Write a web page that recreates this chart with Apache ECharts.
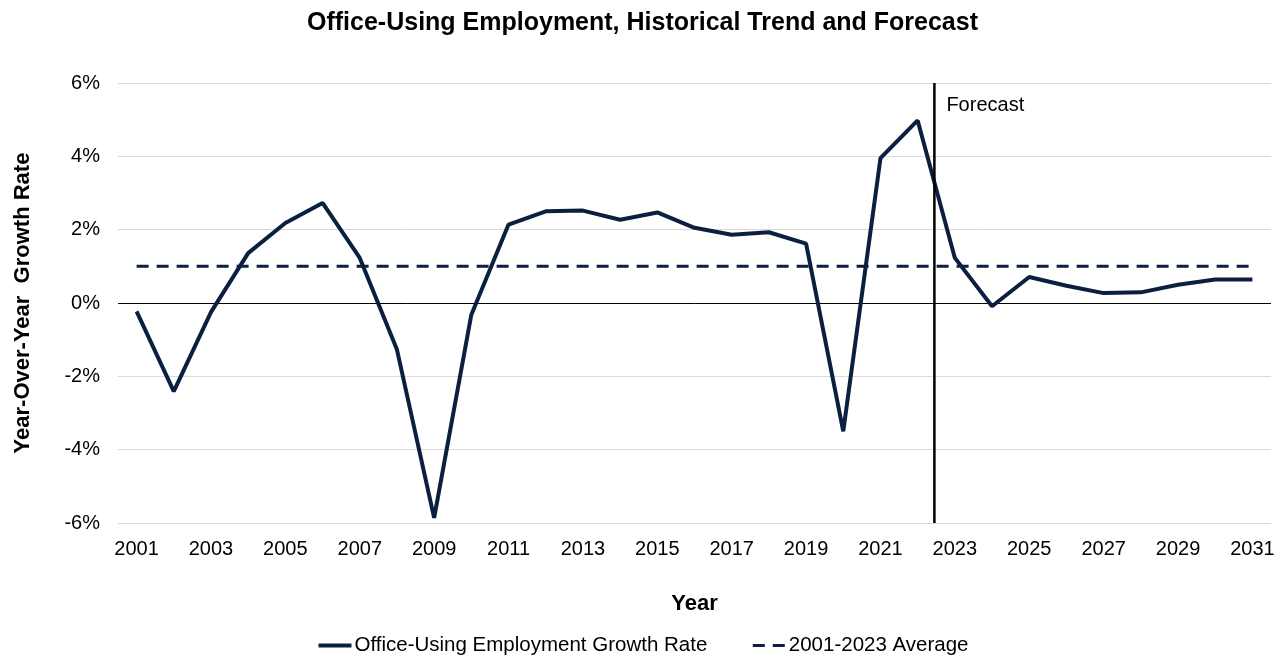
<!DOCTYPE html>
<html>
<head>
<meta charset="utf-8">
<script src="https://cdn.jsdelivr.net/npm/echarts@6/dist/echarts.min.js"></script>
<style>
html,body{margin:0;padding:0;background:#fff;}
#chart{width:1285px;height:660px;}
</style>
</head>
<body>
<div id="chart"></div>
<script>
const years = ['2001','2002','2003','2004','2005','2006','2007','2008','2009','2010','2011','2012','2013','2014','2015','2016','2017','2018','2019','2020','2021','2022','2023','2024','2025','2026','2027','2028','2029','2030','2031'];
const growthRate = [-0.23,-2.41,-0.25,1.36,2.18,2.73,1.23,-1.27,-5.86,-0.32,2.14,2.50,2.52,2.27,2.47,2.05,1.86,1.93,1.62,-3.50,3.95,4.98,1.23,-0.09,0.71,0.47,0.27,0.29,0.50,0.64,0.64];
const averageRate = [1.0,1.0,1.0,1.0,1.0,1.0,1.0,1.0,1.0,1.0,1.0,1.0,1.0,1.0,1.0,1.0,1.0,1.0,1.0,1.0,1.0,1.0,1.0,1.0,1.0,1.0,1.0,1.0,1.0,1.0,1.0];
const forecastStart = 2022.45;
const forecastLine = [[forecastStart, -6], [forecastStart, 6]];
const forecastLabelPoint = [[forecastStart, 6]];

const navy = '#0b1f40';
const font = 'Liberation Sans, Arial, sans-serif';

const chart = echarts.init(document.getElementById('chart'));
chart.setOption({
  backgroundColor: '#ffffff',
  animation: false,
  title: {
    text: 'Office-Using Employment, Historical Trend and Forecast',
    left: 'center',
    top: 6,
    textStyle: {fontFamily: font, fontSize: 25, fontWeight: 'bold', color: '#000'}
  },
  legend: {
    data: [
      {name: 'Office-Using Employment Growth Rate', lineStyle: {width: 4}},
      {name: '2001-2023 Average', lineStyle: {width: 3}}
    ],
    bottom: 4,
    left: 'center',
    padding: 0,
    itemWidth: 33,
    itemHeight: 14,
    itemGap: 44,
    itemStyle: {opacity: 0},
    textStyle: {fontFamily: font, fontSize: 20.5, color: '#000', padding: [0, 0, 0, -2]}
  },
  grid: {left: 118, right: 14, top: 83, bottom: 137},
  xAxis: [{
    type: 'category',
    data: years,
    boundaryGap: true,
    name: 'Year',
    nameLocation: 'middle',
    nameGap: 70,
    nameTextStyle: {fontFamily: font, fontSize: 22, fontWeight: 'bold', color: '#000'},
    axisLine: {show: false},
    axisTick: {show: false},
    axisLabel: {interval: 1, margin: 16, fontFamily: font, fontSize: 20, color: '#000'},
    splitLine: {show: false}
  }, {
    type: 'value',
    min: 2000.5,
    max: 2031.5,
    show: false
  }],
  yAxis: {
    type: 'value',
    min: -6,
    max: 6,
    interval: 2,
    name: 'Year-Over-Year  Growth Rate',
    nameLocation: 'middle',
    nameGap: 84,
    nameTextStyle: {fontFamily: font, fontSize: 22, fontWeight: 'bold', color: '#000'},
    axisLine: {show: false},
    axisTick: {show: false},
    axisLabel: {formatter: '{value}%', margin: 18, fontFamily: font, fontSize: 20, color: '#000'},
    splitLine: {lineStyle: {color: '#d9d9d9', width: 1}}
  },
  series: [{
    name: 'Office-Using Employment Growth Rate',
    type: 'line',
    data: growthRate,
    symbol: 'none',
    lineStyle: {color: navy, width: 4},
    itemStyle: {color: navy},
    z: 5,
    markLine: {
      silent: true,
      symbol: 'none',
      label: {show: false},
      lineStyle: {color: '#000', width: 1, type: 'solid'},
      data: [{yAxis: 0}]
    }
  }, {
    name: '2001-2023 Average',
    type: 'line',
    data: averageRate,
    symbol: 'none',
    lineStyle: {color: navy, width: 3, type: [12, 8]},
    itemStyle: {color: navy},
    z: 4
  }, {
    name: 'forecastDivider',
    type: 'line',
    xAxisIndex: 1,
    data: forecastLine,
    symbol: 'none',
    lineStyle: {color: '#000', width: 2.5},
    silent: true,
    z: 6
  }, {
    name: 'forecastLabel',
    type: 'scatter',
    xAxisIndex: 1,
    data: forecastLabelPoint,
    symbolSize: 0,
    itemStyle: {color: '#000', opacity: 1},
    silent: true,
    z: 7,
    label: {
      show: true,
      formatter: 'Forecast',
      position: [12, 12],
      fontFamily: font,
      fontSize: 20,
      color: '#000',
      opacity: 1,
      textBorderWidth: 0
    }
  }]
});
</script>
</body>
</html>
